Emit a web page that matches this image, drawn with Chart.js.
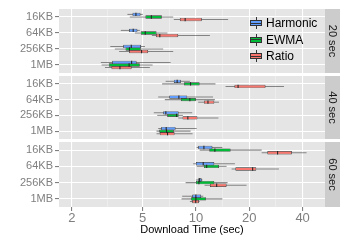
<!DOCTYPE html>
<html><head><meta charset="utf-8">
<script src="https://cdn.jsdelivr.net/npm/chart.js@4.4.0/dist/chart.umd.min.js"></script>
<style>
html,body{margin:0;padding:0;background:#fff;}
#wrap{position:relative;width:350px;height:240px;overflow:hidden;font-family:"Liberation Sans",Arial,sans-serif;}
#wrap canvas{position:absolute;left:0;top:0;}
.key{position:absolute;left:250px;width:12px;height:12px;}
.key .wh{position:absolute;left:5.5px;top:0;width:1px;height:12px;background:#333;}
.key .bx{position:absolute;left:0;top:3px;width:12px;height:6px;border:1px solid #333;box-sizing:border-box;}
.key .md{position:absolute;left:0;top:5.5px;width:12px;height:1px;background:#333;}
.lab{position:absolute;left:266px;font-size:12px;line-height:14px;color:#000;white-space:nowrap;}
</style></head>
<body>
<div id="wrap">
<canvas id="c0" width="350" height="240"></canvas>
<canvas id="c1" width="350" height="240"></canvas>
<canvas id="c2" width="350" height="240"></canvas>
<div id="legend"></div>
</div>
<script>
// ---- data ----
const CATEGORIES = ['16KB', '64KB', '256KB', '1MB'];
const SERIES = ['Harmonic', 'EWMA', 'Ratio'];
const PANELS = ['20 sec', '40 sec', '60 sec'];
const X_TICKS = [2, 5, 10, 20, 40];
const X_TITLE = 'Download Time (sec)';

// five-number summaries: [lower whisker, Q1, median, Q3, upper whisker], one per category
const HARMONIC_20 = [[4.11, 4.39, 4.59, 4.87, 5.02], [3.77, 4.20, 4.43, 4.68, 4.83], [3.29, 3.89, 4.32, 4.90, 5.16], [2.91, 3.37, 4.34, 4.63, 7.2]];
const EWMA_20     = [[4.24, 5.19, 5.61, 6.43, 7.45], [4.53, 4.89, 5.18, 6.00, 6.91], [3.49, 4.01, 4.22, 4.89, 6.54], [2.94, 3.23, 4.20, 4.83, 5.70]];
const RATIO_20    = [[7.51, 8.12, 8.70, 10.8, 15.2], [5.65, 5.95, 6.26, 7.95, 12.0], [3.69, 4.20, 4.94, 5.38, 7.45], [3.07, 3.34, 3.73, 4.34, 5.50]];

const HARMONIC_40 = [[6.75, 7.51, 7.84, 8.23, 9.25], [6.13, 7.07, 8.02, 8.93, 12.5], [5.79, 6.54, 6.77, 7.99, 9.53], [6.13, 6.37, 6.80, 7.68, 10.1]];
const EWMA_40     = [[6.45, 8.56, 9.33, 10.5, 12.9], [6.68, 8.23, 9.25, 10.0, 12.8], [6.05, 6.89, 7.78, 7.99, 8.45], [6.00, 6.21, 6.83, 7.51, 9.33]];
const RATIO_40    = [[14.7, 16.5, 17.3, 24.7, 31.4], [10.3, 11.1, 11.7, 12.7, 13.5], [7.95, 8.41, 9.01, 10.2, 13.4], [6.00, 6.26, 6.92, 7.58, 9.58]];

const HARMONIC_60 = [[10.1, 10.3, 11.1, 12.4, 14.1], [9.65, 10.0, 11.0, 12.7, 16.6], [10.0, 10.3, 10.5, 10.8, 10.9], [8.37, 9.53, 10.0, 10.7, 11.0]];
const EWMA_60     = [[10.5, 11.9, 12.8, 15.7, 23.5], [10.1, 11.1, 11.5, 13.5, 14.9], [8.75, 10.0, 10.4, 12.7, 15.1], [8.30, 9.37, 10.0, 11.4, 14.1]];
const RATIO_60    = [[23.5, 25.3, 28.9, 34.8, 42.1], [15.9, 16.7, 20.9, 21.9, 29.4], [11.2, 12.0, 13.1, 14.9, 19.3], [9.25, 9.53, 9.98, 10.4, 10.5]];

// ---- assembly ----
const PANEL_DATA = [
  [HARMONIC_20, EWMA_20, RATIO_20],
  [HARMONIC_40, EWMA_40, RATIO_40],
  [HARMONIC_60, EWMA_60, RATIO_60]
];
const COLORS = ['#619CFF', '#00BA38', '#F8766D'];
const X_MIN = 1.69, X_MAX = 53.5;
const X_MINOR = X_TICKS.slice(1).map((v, i) => Math.sqrt(v * X_TICKS[i]));
const PANEL_TOP = [9, 76, 142];
const PANEL_BOTTOM = [73, 139, 207];
const CP = 0.4875;

Chart.defaults.font.family = "'Liberation Sans', Arial, sans-serif";

const panelBg = {
  id: 'panelBg',
  beforeDraw(chart) {
    const {ctx, chartArea: a} = chart;
    ctx.save();
    ctx.fillStyle = '#E5E5E5';
    ctx.fillRect(a.left, a.top, a.right - a.left, a.bottom - a.top);
    ctx.restore();
  }
};

const isMajor = (ctx) => ctx && ctx.tick && X_TICKS.includes(ctx.tick.value);

function makeChart(id, p) {
  const last = p === PANELS.length - 1;
  const datasets = [];
  SERIES.forEach((name, s) => {
    const d = PANEL_DATA[p][s];
    datasets.push({
      label: name + ' median', data: d.map(v => [v[2] / 1.007, v[2] * 1.007]),
      backgroundColor: '#262626', borderWidth: 0, stack: name, order: -1,
      categoryPercentage: CP, barPercentage: 1.3
    });
  });
  SERIES.forEach((name, s) => {
    const d = PANEL_DATA[p][s];
    datasets.push({
      label: name, data: d.map(v => [v[1], v[3]]),
      backgroundColor: COLORS[s], borderColor: '#333333', borderWidth: 0.7, borderSkipped: false,
      stack: name, order: 0, categoryPercentage: CP, barPercentage: 1.3
    });
  });
  SERIES.forEach((name, s) => {
    const d = PANEL_DATA[p][s];
    datasets.push({
      label: name + ' whisker', data: d.map(v => [v[0], v[4]]),
      backgroundColor: 'rgba(51,51,51,0.55)', borderWidth: 0, stack: name, order: 1,
      categoryPercentage: CP, barPercentage: 0.4
    });
  });

  return new Chart(document.getElementById(id), {
    type: 'bar',
    data: {labels: CATEGORIES, datasets},
    options: {
      indexAxis: 'y',
      responsive: false,
      animation: false,
      devicePixelRatio: 1,
      layout: {padding: {left: 0, right: 10, top: PANEL_TOP[p], bottom: last ? 0 : 240 - PANEL_BOTTOM[p]}},
      plugins: {legend: {display: false}, tooltip: {enabled: false}},
      scales: {
        x: {
          type: 'logarithmic', min: X_MIN, max: X_MAX, stacked: false, position: 'bottom',
          border: {display: false},
          grid: {
            color: c => isMajor(c) ? '#FFFFFF' : '#F2F2F2',
            lineWidth: c => isMajor(c) ? 1.1 : 0.6,
            drawTicks: last, tickLength: 4,
            tickColor: c => isMajor(c) ? '#7F7F7F' : 'rgba(0,0,0,0)'
          },
          afterBuildTicks: s => {
            s.ticks = X_TICKS.concat(X_MINOR).sort((a, b) => a - b).map(v => ({value: v}));
          },
          ticks: {
            display: last, autoSkip: false, maxRotation: 0, color: '#7F7F7F',
            font: {size: 13}, padding: 0,
            callback: v => X_TICKS.includes(v) ? String(v) : ''
          },
          title: {display: last, text: X_TITLE, color: '#000000', font: {size: 11}, padding: {top: 0, bottom: 3}},
          afterFit: s => { s.height = last ? 33 : 0; }
        },
        y: {
          type: 'category', position: 'left', offset: true,
          border: {display: false},
          grid: {offset: false, color: '#FFFFFF', lineWidth: 1.1, drawTicks: true, tickLength: 4, tickColor: '#7F7F7F'},
          ticks: {color: '#7F7F7F', font: {size: 11}, padding: 2, autoSkip: false},
          afterFit: s => { s.width = 59; }
        },
        strip: {
          type: 'category', position: 'right', axis: 'y',
          backgroundColor: '#CCCCCC',
          border: {display: false},
          grid: {display: false, drawTicks: false},
          ticks: {display: false},
          title: {display: true, text: PANELS[p], color: '#1A1A1A', font: {size: 11}, padding: {top: 1.5, bottom: 0}},
          afterFit: s => { s.width = 15; }
        }
      }
    },
    plugins: [panelBg]
  });
}

PANELS.forEach((_, p) => makeChart('c' + p, p));

// legend
const legend = document.getElementById('legend');
const ROW_CENTERS = [23, 39.5, 56];
SERIES.forEach((name, s) => {
  const key = document.createElement('div');
  key.className = 'key';
  key.style.top = (ROW_CENTERS[s] - 6) + 'px';
  key.innerHTML = '<div class="wh"></div><div class="bx" style="background:' + COLORS[s] + '"></div><div class="md"></div>';
  legend.appendChild(key);
  const lab = document.createElement('div');
  lab.className = 'lab';
  lab.style.top = (ROW_CENTERS[s] - 7) + 'px';
  lab.textContent = name;
  legend.appendChild(lab);
});
</script>
</body></html>
